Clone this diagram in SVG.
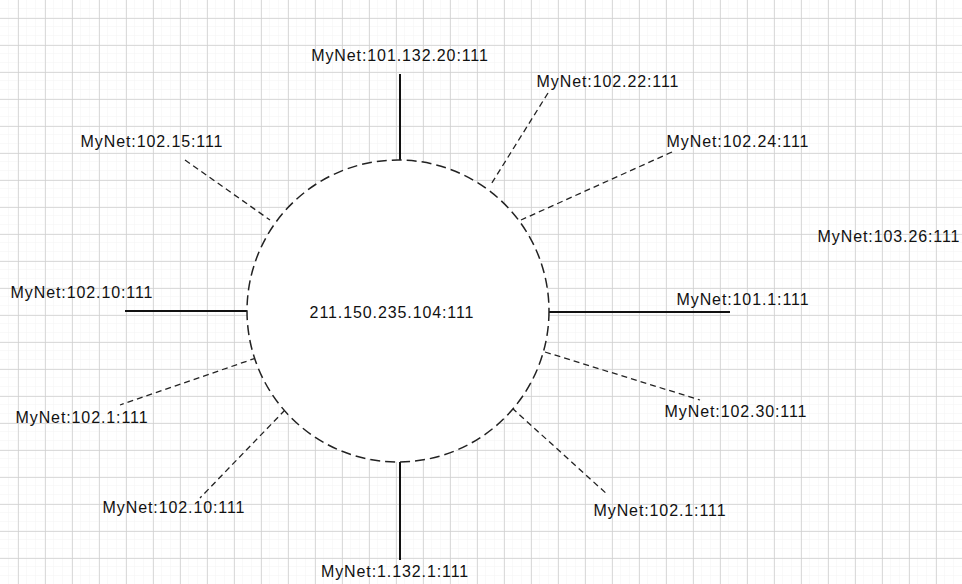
<svg xmlns="http://www.w3.org/2000/svg" width="962" height="584" viewBox="0 0 962 584">
<style>
text{font-family:"Liberation Sans",Arial,sans-serif;font-size:16px;letter-spacing:0.9px;fill:#111}
.solid{stroke:#111;stroke-width:2;fill:none}
.dash{stroke:#222;stroke-width:1.3;stroke-dasharray:6 4;fill:none}
</style>
<defs>
<pattern id="minor" width="9" height="9" patternUnits="userSpaceOnUse" x="0" y="0">
<path d="M9 0V9M0 9H9" stroke="#f3f3f3" stroke-width="1" fill="none"/>
</pattern>
<pattern id="major" width="27" height="27" patternUnits="userSpaceOnUse" x="18" y="18">
<path d="M0 0V27M0 0H27" stroke="#cfcfcf" stroke-width="1.5" fill="none"/>
</pattern>
</defs>
<rect width="962" height="584" fill="#fff"/>
<rect width="962" height="584" fill="url(#minor)"/>
<rect width="962" height="584" fill="url(#major)"/>
<g id="connectors">
<line class="solid" x1="400" y1="74" x2="400" y2="160"/>
<line class="dash" x1="548" y1="93" x2="490" y2="186"/>
<line class="dash" x1="672" y1="152" x2="521" y2="220"/>
<line class="solid" x1="549" y1="312" x2="730" y2="312"/>
<line class="dash" x1="545" y1="352" x2="700" y2="400"/>
<line class="dash" x1="512" y1="408" x2="608" y2="495"/>
<line class="solid" x1="400" y1="462" x2="400" y2="560"/>
<line class="dash" x1="285" y1="410" x2="200" y2="498"/>
<line class="dash" x1="256" y1="358" x2="120" y2="405"/>
<line class="solid" x1="125" y1="311" x2="248" y2="311"/>
<line class="dash" x1="185" y1="160" x2="270" y2="220"/>
</g>
<g id="center">
<circle cx="398" cy="311" r="151" fill="#fff" stroke="#222" stroke-width="1.5" stroke-dasharray="10 5"/>
<text x="392" y="318" text-anchor="middle">211.150.235.104:111</text>
</g>
<g id="n1"><text x="400" y="61" text-anchor="middle">MyNet:101.132.20:111</text></g>
<g id="n2"><text x="608" y="87" text-anchor="middle">MyNet:102.22:111</text></g>
<g id="n3"><text x="738" y="147" text-anchor="middle">MyNet:102.24:111</text></g>
<g id="n4"><text x="889" y="242" text-anchor="middle">MyNet:103.26:111</text></g>
<g id="n5"><text x="743" y="305" text-anchor="middle">MyNet:101.1:111</text></g>
<g id="n6"><text x="736" y="417" text-anchor="middle">MyNet:102.30:111</text></g>
<g id="n7"><text x="660" y="516" text-anchor="middle">MyNet:102.1:111</text></g>
<g id="n8"><text x="395" y="577" text-anchor="middle">MyNet:1.132.1:111</text></g>
<g id="n9"><text x="174" y="513" text-anchor="middle">MyNet:102.10:111</text></g>
<g id="n10"><text x="82" y="423" text-anchor="middle">MyNet:102.1:111</text></g>
<g id="n11"><text x="82" y="298" text-anchor="middle">MyNet:102.10:111</text></g>
<g id="n12"><text x="152" y="147" text-anchor="middle">MyNet:102.15:111</text></g>
</svg>
